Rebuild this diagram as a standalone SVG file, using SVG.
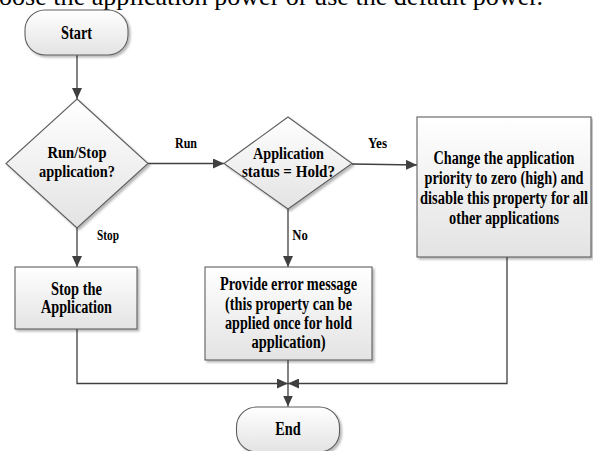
<svg xmlns="http://www.w3.org/2000/svg" width="593" height="451" viewBox="0 0 593 451">
<style>
.node{stroke:#5e5e5e;stroke-width:1.1;fill:url(#g)}
.lbl{font-family:"Liberation Serif","Times New Roman",serif;font-weight:bold;font-size:18px;fill:#000;text-anchor:middle}
.dlbl{font-family:"Liberation Serif","Times New Roman",serif;font-weight:bold;font-size:17px;fill:#000;text-anchor:middle}
.edge{font-family:"Liberation Serif","Times New Roman",serif;font-weight:bold;font-size:15px;fill:#000;text-anchor:middle}
.cap{font-family:"Liberation Serif","Times New Roman",serif;font-size:26px;fill:#000}
.conn path{fill:none;stroke:#404040;stroke-width:1.3}
</style>
<defs>
<linearGradient id="g" x1="0" y1="0" x2="0" y2="1">
<stop offset="0" stop-color="#ffffff"/>
<stop offset="1" stop-color="#e3e3e3"/>
</linearGradient>
<filter id="sh" x="-10%" y="-10%" width="125%" height="130%">
<feDropShadow dx="2" dy="2" stdDeviation="0.8" flood-color="#000" flood-opacity="0.28"/>
</filter>
<marker id="ar" markerUnits="userSpaceOnUse" markerWidth="11" markerHeight="10" refX="11" refY="5" orient="auto">
<path d="M0,0 L11,5 L0,10 z" fill="#404040"/>
</marker>
</defs>

<text class="cap" x="-1" y="4.5" textLength="544" lengthAdjust="spacingAndGlyphs">oose the application power or use the default power.</text>

<g id="connectors" class="conn">
<path d="M77,55 V99" marker-end="url(#ar)"/>
<path d="M148,163.5 H224" marker-end="url(#ar)"/>
<path d="M77,228 V267" marker-end="url(#ar)"/>
<path d="M352,164 L417,165" marker-end="url(#ar)"/>
<path d="M288,209 V267" marker-end="url(#ar)"/>
<path d="M77,329 V383.5 H288" marker-end="url(#ar)"/>
<path d="M507,257 V383.5 H288" marker-end="url(#ar)"/>
<path d="M288,360 V406.5" marker-end="url(#ar)"/>
<text class="edge" x="186" y="147.5" textLength="22" lengthAdjust="spacingAndGlyphs">Run</text>
<text class="edge" x="377.5" y="147.5" textLength="19" lengthAdjust="spacingAndGlyphs">Yes</text>
<text class="edge" x="108" y="239.5" textLength="22" lengthAdjust="spacingAndGlyphs">Stop</text>
<text class="edge" x="300" y="240" textLength="15.5" lengthAdjust="spacingAndGlyphs">No</text>
</g>

<g id="start">
<rect class="node" filter="url(#sh)" x="25" y="10" width="103" height="45" rx="20" ry="20"/>
<text class="lbl" x="76.5" y="38.5" textLength="31" lengthAdjust="spacingAndGlyphs">Start</text>
</g>

<g id="runstop">
<polygon class="node" filter="url(#sh)" points="77,99 148,163.5 77,228 6,163.5"/>
<text class="dlbl" x="77" y="158" textLength="59" lengthAdjust="spacingAndGlyphs">Run/Stop</text>
<text class="dlbl" x="77" y="176.5" textLength="76" lengthAdjust="spacingAndGlyphs">application?</text>
</g>

<g id="hold">
<polygon class="node" filter="url(#sh)" points="288,117 352,163.5 288,209 224,163.5"/>
<text class="dlbl" x="288.5" y="158.5" textLength="71" lengthAdjust="spacingAndGlyphs">Application</text>
<text class="dlbl" x="288.5" y="177" textLength="93" lengthAdjust="spacingAndGlyphs">status = Hold?</text>
</g>

<g id="change">
<rect class="node" filter="url(#sh)" x="417" y="117" width="174" height="140"/>
<text class="lbl" x="504" y="164" textLength="141" lengthAdjust="spacingAndGlyphs">Change the application</text>
<text class="lbl" x="504" y="184" textLength="159" lengthAdjust="spacingAndGlyphs">priority to zero (high) and</text>
<text class="lbl" x="504" y="204" textLength="168" lengthAdjust="spacingAndGlyphs">disable this property for all</text>
<text class="lbl" x="504" y="224" textLength="110" lengthAdjust="spacingAndGlyphs">other applications</text>
</g>

<g id="stopapp">
<rect class="node" filter="url(#sh)" x="15" y="267" width="122" height="62"/>
<text class="lbl" x="76.5" y="294.5" textLength="51" lengthAdjust="spacingAndGlyphs">Stop the</text>
<text class="lbl" x="76.5" y="313" textLength="71" lengthAdjust="spacingAndGlyphs">Application</text>
</g>

<g id="error">
<rect class="node" filter="url(#sh)" x="205" y="267" width="167" height="93"/>
<text class="lbl" x="288.5" y="290" textLength="137" lengthAdjust="spacingAndGlyphs">Provide error message</text>
<text class="lbl" x="288.5" y="309.5" textLength="127" lengthAdjust="spacingAndGlyphs">(this property can be</text>
<text class="lbl" x="288.5" y="328.5" textLength="127" lengthAdjust="spacingAndGlyphs">applied once for hold</text>
<text class="lbl" x="288.5" y="347.5" textLength="74" lengthAdjust="spacingAndGlyphs">application)</text>
</g>

<g id="end">
<rect class="node" filter="url(#sh)" x="236.5" y="407" width="103" height="45" rx="20" ry="20"/>
<text class="lbl" x="288" y="435" textLength="25.5" lengthAdjust="spacingAndGlyphs">End</text>
</g>
</svg>
